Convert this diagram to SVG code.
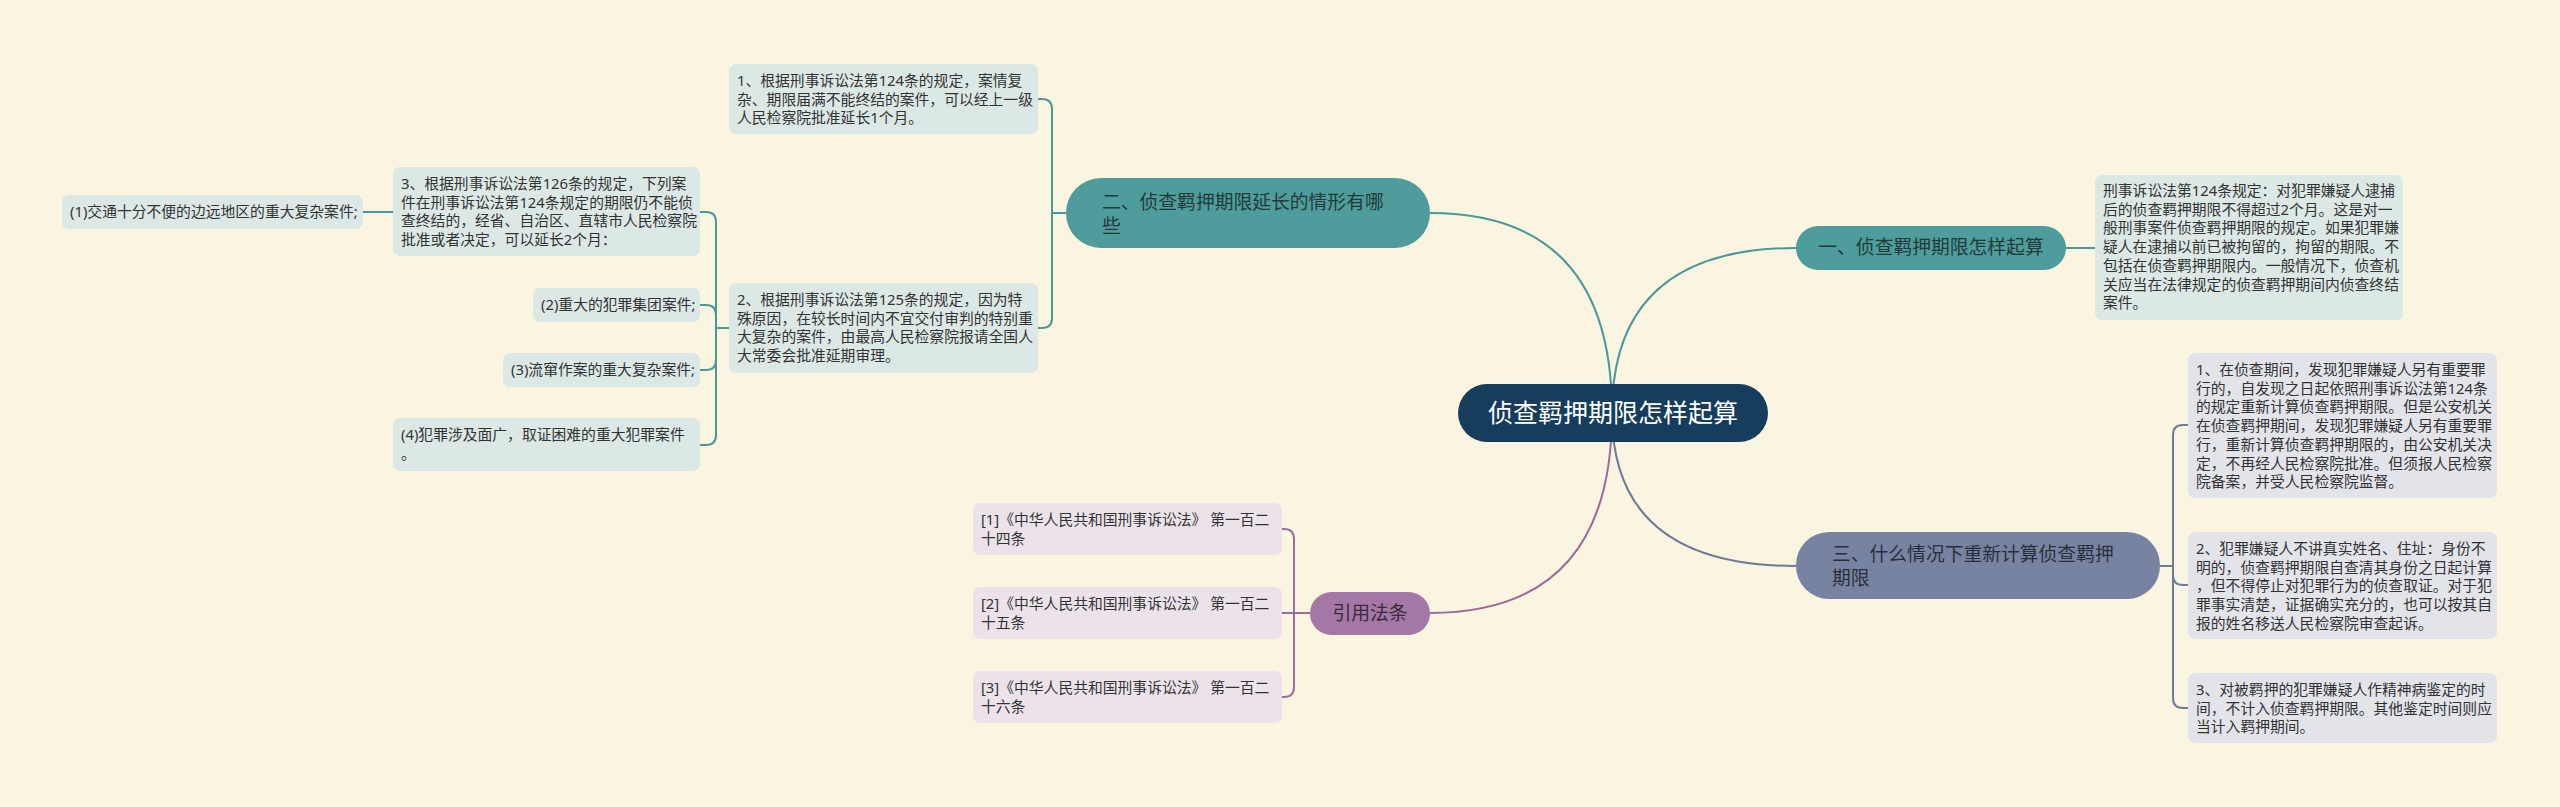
<svg xmlns="http://www.w3.org/2000/svg" width="2560" height="807" viewBox="0 0 2560 807">
<style>
text{font-family:"Noto Sans","Noto Sans CJK SC",sans-serif;}
.bg{fill:#faf5e0;}
.leaf{font-size:14.8px;fill:#333333;}
.br{font-size:18.8px;}
.lt{fill:#dbe8e6;}
.ls{fill:#e2e4ea;}
.lp{fill:#ece3ea;}
.ct{fill:none;stroke:#4a9898;stroke-width:2;}
.cs{fill:none;stroke:#6f7999;stroke-width:2;}
.cp{fill:none;stroke:#9b6d9d;stroke-width:2;}
</style>
<rect class="bg" x="0" y="0" width="2560" height="807"/>
<g id="connectors">
<path class="ct" d="M1612,413 Q1612,248 1796,248"/>
<path class="ct" d="M1612,413 Q1612,213 1430,213"/>
<path class="cs" d="M1612,413 Q1612,566 1796,566"/>
<path class="cp" d="M1612,413 Q1612,613 1430,613"/>
<path class="ct" d="M2066,248 H2095"/>
<path class="ct" d="M1066,213 H1052 V109 Q1052,99 1042,99 H1038"/>
<path class="ct" d="M1052,213 V318 Q1052,328 1042,328 H1038"/>
<path class="ct" d="M729,328 H716 V222 Q716,212 706,212 H700"/>
<path class="ct" d="M716,328 V315 Q716,305 706,305 H700"/>
<path class="ct" d="M716,328 V360 Q716,370 706,370 H700"/>
<path class="ct" d="M716,328 V435 Q716,445 706,445 H700"/>
<path class="ct" d="M393,212 H363"/>
<path class="cs" d="M2160,566 H2173 V435 Q2173,425 2183,425 H2188"/>
<path class="cs" d="M2173,566 V575 Q2173,585 2183,585 H2188"/>
<path class="cs" d="M2173,566 V698 Q2173,708 2183,708 H2188"/>
<path class="cp" d="M1310,613 H1282"/>
<path class="cp" d="M1294,613 V539 Q1294,529 1284,529 H1282"/>
<path class="cp" d="M1294,613 V687 Q1294,697 1284,697 H1282"/>
</g>
<g id="center">
<rect x="1458" y="384" width="310" height="58" rx="29" fill="#173d5c"/>
<text x="1613" y="422" font-size="25" fill="#ffffff" text-anchor="middle">侦查羁押期限怎样起算</text>
</g>
<g id="b1">
<rect x="1796" y="226" width="270" height="44" rx="22" fill="#4e9c9b"/>
<text class="br" x="1931" y="254" fill="#233a3b" text-anchor="middle">一、侦查羁押期限怎样起算</text>
</g>
<g id="b2">
<rect x="1066" y="178" width="364" height="70" rx="35" fill="#4e9c9b"/>
<text class="br" fill="#233a3b"><tspan x="1102" y="209">二、侦查羁押期限延长的情形有哪</tspan><tspan x="1102" y="233">些</tspan></text>
</g>
<g id="b3">
<rect x="1796" y="532" width="364" height="67" rx="33" fill="#7883a2"/>
<text class="br" fill="#2b2f3d"><tspan x="1832" y="561">三、什么情况下重新计算侦查羁押</tspan><tspan x="1832" y="585">期限</tspan></text>
</g>
<g id="b4">
<rect x="1310" y="592" width="120" height="43" rx="21.5" fill="#a577a5"/>
<text class="br" x="1370" y="620" fill="#3a2a3a" text-anchor="middle">引用法条</text>
</g>
<g id="leaf1">
<rect class="lt" x="2095" y="175" width="308" height="145" rx="7"/>
<text class="leaf"><tspan x="2103" y="196">刑事诉讼法第124条规定：对犯罪嫌疑人逮捕</tspan><tspan x="2103" y="214.7">后的侦查羁押期限不得超过2个月。这是对一</tspan><tspan x="2103" y="233.4">般刑事案件侦查羁押期限的规定。如果犯罪嫌</tspan><tspan x="2103" y="252.1">疑人在逮捕以前已被拘留的，拘留的期限。不</tspan><tspan x="2103" y="270.8">包括在侦查羁押期限内。一般情况下，侦查机</tspan><tspan x="2103" y="289.5">关应当在法律规定的侦查羁押期间内侦查终结</tspan><tspan x="2103" y="308.2">案件。</tspan></text>
</g>
<g id="leaf2a">
<rect class="lt" x="729" y="64" width="309" height="70" rx="7"/>
<text class="leaf"><tspan x="737" y="86">1、根据刑事诉讼法第124条的规定，案情复</tspan><tspan x="737" y="104.7">杂、期限届满不能终结的案件，可以经上一级</tspan><tspan x="737" y="123.4">人民检察院批准延长1个月。</tspan></text>
</g>
<g id="leaf2b">
<rect class="lt" x="729" y="283" width="309" height="90" rx="7"/>
<text class="leaf"><tspan x="737" y="305">2、根据刑事诉讼法第125条的规定，因为特</tspan><tspan x="737" y="323.7">殊原因，在较长时间内不宜交付审判的特别重</tspan><tspan x="737" y="342.4">大复杂的案件，由最高人民检察院报请全国人</tspan><tspan x="737" y="361.1">大常委会批准延期审理。</tspan></text>
</g>
<g id="leaf2c">
<rect class="lt" x="393" y="167" width="307" height="89" rx="7"/>
<text class="leaf"><tspan x="401" y="189">3、根据刑事诉讼法第126条的规定，下列案</tspan><tspan x="401" y="207.7">件在刑事诉讼法第124条规定的期限仍不能侦</tspan><tspan x="401" y="226.4">查终结的，经省、自治区、直辖市人民检察院</tspan><tspan x="401" y="245.1">批准或者决定，可以延长2个月：</tspan></text>
</g>
<g id="leaf2c1">
<rect class="lt" x="62" y="195" width="301" height="34" rx="7"/>
<text class="leaf" x="70" y="217">(1)交通十分不便的边远地区的重大复杂案件;</text>
</g>
<g id="leaf2d">
<rect class="lt" x="533" y="288" width="167" height="34" rx="7"/>
<text class="leaf" x="541" y="310">(2)重大的犯罪集团案件;</text>
</g>
<g id="leaf2e">
<rect class="lt" x="503" y="353" width="197" height="34" rx="7"/>
<text class="leaf" x="511" y="375">(3)流窜作案的重大复杂案件;</text>
</g>
<g id="leaf2f">
<rect class="lt" x="393" y="418" width="307" height="53" rx="7"/>
<text class="leaf"><tspan x="401" y="440">(4)犯罪涉及面广，取证困难的重大犯罪案件</tspan><tspan x="401" y="459">。</tspan></text>
</g>
<g id="leaf3a">
<rect class="ls" x="2188" y="353" width="309" height="145" rx="7"/>
<text class="leaf"><tspan x="2196" y="375">1、在侦查期间，发现犯罪嫌疑人另有重要罪</tspan><tspan x="2196" y="393.7">行的，自发现之日起依照刑事诉讼法第124条</tspan><tspan x="2196" y="412.4">的规定重新计算侦查羁押期限。但是公安机关</tspan><tspan x="2196" y="431.1">在侦查羁押期间，发现犯罪嫌疑人另有重要罪</tspan><tspan x="2196" y="449.8">行，重新计算侦查羁押期限的，由公安机关决</tspan><tspan x="2196" y="468.5">定，不再经人民检察院批准。但须报人民检察</tspan><tspan x="2196" y="487.2">院备案，并受人民检察院监督。</tspan></text>
</g>
<g id="leaf3b">
<rect class="ls" x="2188" y="532" width="309" height="107" rx="7"/>
<text class="leaf"><tspan x="2196" y="554">2、犯罪嫌疑人不讲真实姓名、住址：身份不</tspan><tspan x="2196" y="572.7">明的，侦查羁押期限自查清其身份之日起计算</tspan><tspan x="2196" y="591.4">，但不得停止对犯罪行为的侦查取证。对于犯</tspan><tspan x="2196" y="610.1">罪事实清楚，证据确实充分的，也可以按其自</tspan><tspan x="2196" y="628.8">报的姓名移送人民检察院审查起诉。</tspan></text>
</g>
<g id="leaf3c">
<rect class="ls" x="2188" y="673" width="309" height="70" rx="7"/>
<text class="leaf"><tspan x="2196" y="695">3、对被羁押的犯罪嫌疑人作精神病鉴定的时</tspan><tspan x="2196" y="713.7">间，不计入侦查羁押期限。其他鉴定时间则应</tspan><tspan x="2196" y="732.4">当计入羁押期间。</tspan></text>
</g>
<g id="leaf4a">
<rect class="lp" x="973" y="503" width="309" height="52" rx="7"/>
<text class="leaf"><tspan x="981" y="525">[1]《中华人民共和国刑事诉讼法》 第一百二</tspan><tspan x="981" y="543.7">十四条</tspan></text>
</g>
<g id="leaf4b">
<rect class="lp" x="973" y="587" width="309" height="52" rx="7"/>
<text class="leaf"><tspan x="981" y="609">[2]《中华人民共和国刑事诉讼法》 第一百二</tspan><tspan x="981" y="627.7">十五条</tspan></text>
</g>
<g id="leaf4c">
<rect class="lp" x="973" y="671" width="309" height="52" rx="7"/>
<text class="leaf"><tspan x="981" y="693">[3]《中华人民共和国刑事诉讼法》 第一百二</tspan><tspan x="981" y="711.7">十六条</tspan></text>
</g>
</svg>
